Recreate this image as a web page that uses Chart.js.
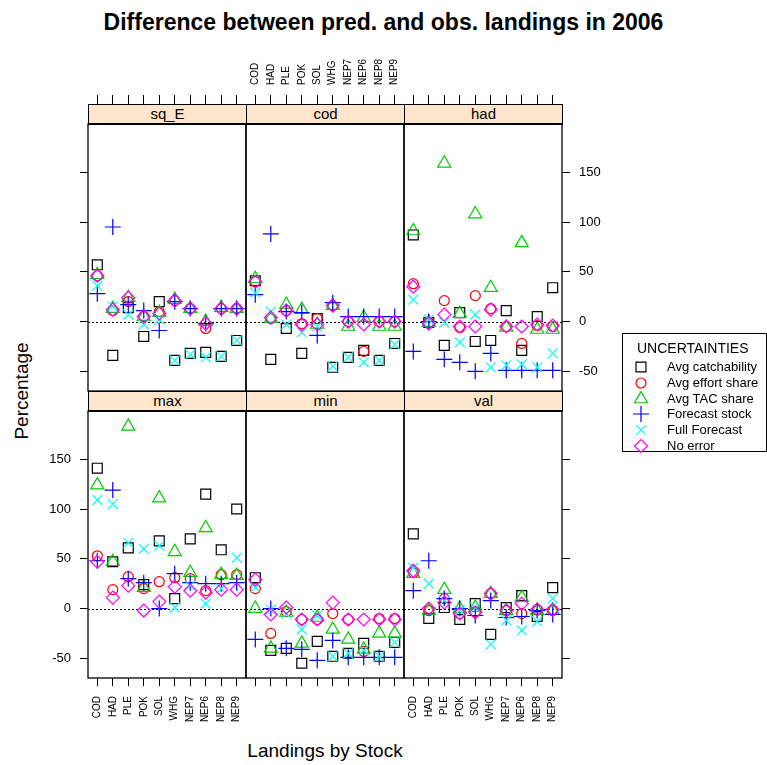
<!DOCTYPE html>
<html>
<head>
<meta charset="utf-8">
<title>Difference between pred. and obs. landings in 2006</title>
<script src="https://cdn.jsdelivr.net/npm/chart.js@4/dist/chart.umd.min.js"></script>
<style>
  html, body { margin: 0; padding: 0; background: #fff; }
  #fig { position: relative; width: 767px; height: 765px; overflow: hidden;
         font-family: "Liberation Sans", Arial, Helvetica, sans-serif; color: #000; }
  .panel { position: absolute; }
  .strip { position: absolute; box-sizing: border-box; background: #ffe5cc;
           border: 1px solid #000; border-bottom-width: 2px; text-align: center; font-size: 15px; }
  #title { position: absolute; left: 0; top: 8px; width: 767px; text-align: center;
           font-weight: bold; font-size: 23px; line-height: 28px; }
  #xlab { position: absolute; left: 88px; width: 474px; top: 740px; text-align: center; font-size: 19px; line-height: 22px; }
  #ylab { position: absolute; left: 22px; top: 391px; font-size: 19px; line-height: 22px; white-space: nowrap;
          transform: translate(-50%, -50%) rotate(-90deg); }
  #legend { position: absolute; left: 622px; top: 333px; width: 145px; height: 119px; box-sizing: border-box;
            border: 1px solid #000; }
  #legend .ttl { position: absolute; left: 14px; top: 6px; font-size: 14px; line-height: 16px; }
  #legend .row { position: absolute; left: 0; height: 16px; font-size: 13px; line-height: 16px; }
  #legend canvas { position: absolute; left: 8px; top: 0; }
  #legend .lab { position: absolute; left: 44px; top: 0; white-space: nowrap; }
</style>
</head>
<body>
<div id="fig">
  <div id="title">Difference between pred. and obs. landings in 2006</div>
  <div id="ylab">Percentage</div>
  <div id="xlab">Landings by Stock</div>
  <div id="legend"><div class="ttl">UNCERTAINTIES</div></div>
</div>
<script>
// Stocks along the x axis of every panel
const stocks = ['COD', 'HAD', 'PLE', 'POK', 'SOL', 'WHG', 'NEP7', 'NEP6', 'NEP8', 'NEP9'];
const yTickValues = [-50, 0, 50, 100, 150];
const seriesNames = ['Avg catchability', 'Avg effort share', 'Avg TAC share',
                     'Forecast stock', 'Full Forecast', 'No error'];
const panelNames = ['sq_E', 'cod', 'had', 'max', 'min', 'val'];

// Percentage difference per scenario and stock
const sqE_avgCatch  = [57, -34, 14, -15, 20, -39, -32, -31, -35, -19];
const sqE_avgEffort = [46, 11, 20, 5, 10, 21, 13, -7, 13, 13];
const sqE_avgTAC    = [47, 13, 24, 5, 9, 22, 13, 0, 14, 13];
const sqE_fcStock   = [28, 95, 17, 11, -9, 20, 13, -2, 13, 13];
const sqE_fullFc    = [36, 15, 7, -3, 2, -39, -33, -36, -35, -19];
const sqE_noError   = [46, 12, 24, 5, 8, 21, 13, -2, 13, 13];

const cod_avgCatch  = [41, -38, -7, -32, 3, -46, -36, -29, -39, -22];
const cod_avgEffort = [40, 3, 11, -2, 3, 16, 0, -30, 0, 0];
const cod_avgTAC    = [43, 3, 17, 12, -3, 16, -5, 4, -5, -5];
const cod_fcStock   = [27, 88, 10, 9, -14, 19, 5, 5, 5, 5];
const cod_fullFc    = [29, 10, -3, -11, -5, -45, -36, -41, -39, -23];
const cod_noError   = [40, 4, 11, -3, -3, 16, 0, -3, 0, 0];

const had_avgCatch  = [87, -1, -24, 9, -20, -19, 11, -29, 5, 34];
const had_avgEffort = [38, -1, 21, -6, 26, 13, -5, -22, -4, -5];
const had_avgTAC    = [91, -1, 159, 8, 108, 34, -6, 79, -8, -8];
const had_fcStock   = [-30, 0, -38, -41, -50, -32, -49, -49, -49, -49];
const had_fullFc    = [22, 2, -1, -21, 7, -46, -44, -43, -46, -32];
const had_noError   = [35, -2, 7, -5, -5, 12, -5, -5, -3, -4];

const max_avgCatch  = [141, 47, 61, 24, 68, 10, 70, 115, 59, 100];
const max_avgEffort = [53, 19, 32, 20, 27, 31, 30, 18, 34, 34];
const max_avgTAC    = [124, 47, 183, 21, 111, 57, 36, 81, 34, 33];
const max_fcStock   = [48, 119, 30, 26, 0, 35, 26, 25, 25, 26];
const max_fullFc    = [109, 105, 66, 60, 63, 1, 23, 5, 20, 51];
const max_noError   = [47, 11, 23, -2, 7, 22, 18, 16, 19, 19];

const min_avgCatch  = [31, -42, -40, -55, -33, -48, -45, -35, -48, -34];
const min_avgEffort = [20, -25, -3, -11, -11, -5, -11, -43, -10, -10];
const min_avgTAC    = [0, -40, -4, -35, -9, -21, -31, -41, -25, -25];
const min_fcStock   = [-31, 0, -40, -41, -52, -32, -49, -49, -49, -49];
const min_fullFc    = [21, -1, -5, -21, -7, -48, -45, -42, -48, -34];
const min_noError   = [29, -6, 1, -11, -11, 6, -11, -11, -11, -11];

const val_avgCatch  = [75, -10, 1, -11, 5, -26, 1, 13, -8, 21];
const val_avgEffort = [36, -2, 10, -5, -3, 15, -2, -5, -1, -2];
const val_avgTAC    = [35, -2, 19, 0, 1, 15, -2, 11, -2, -2];
const val_fcStock   = [18, 48, 10, 0, -7, 8, -9, -8, -2, -6];
const val_fullFc    = [41, 25, 8, -2, 1, -36, -12, -22, -13, 10];
const val_noError   = [38, 0, 6, -5, -4, 15, -2, 5, -1, -1];

const panelSeries = {
  sq_E: [sqE_avgCatch, sqE_avgEffort, sqE_avgTAC, sqE_fcStock, sqE_fullFc, sqE_noError],
  cod:  [cod_avgCatch, cod_avgEffort, cod_avgTAC, cod_fcStock, cod_fullFc, cod_noError],
  had:  [had_avgCatch, had_avgEffort, had_avgTAC, had_fcStock, had_fullFc, had_noError],
  max:  [max_avgCatch, max_avgEffort, max_avgTAC, max_fcStock, max_fullFc, max_noError],
  min:  [min_avgCatch, min_avgEffort, min_avgTAC, min_fcStock, min_fullFc, min_noError],
  val:  [val_avgCatch, val_avgEffort, val_avgTAC, val_fcStock, val_fullFc, val_noError]
};

// Plotting symbols, one per scenario
const symbols = [
  { pointStyle: 'rect',     radius: 7,   color: '#000000' },
  { pointStyle: 'circle',   radius: 5,   color: '#ff0000' },
  { pointStyle: 'triangle', radius: 7.5, color: '#00cc00' },
  { pointStyle: 'cross',    radius: 8,   color: '#0000ff' },
  { pointStyle: 'crossRot', radius: 7,   color: '#00ffff' },
  { pointStyle: 'rectRot',  radius: 6.5, color: '#ff00ff' }
];

// Lattice geometry
const FONT = '"Liberation Sans", Arial, Helvetica, sans-serif';
const PANEL_W = 158, PANEL_H = 267, STRIP_H = 21;
const colLeft = [88, 246, 404];
const rowTop = [124, 411];
const M_SIDE = 70, M_TOP = 80, M_BOTTOM = 70;
const X_MIN = 0.4, X_MAX = 10.6, Y_MIN = -69.8, Y_MAX = 198.5;
const X_FONT = 10;

// Which outer sides carry tick marks / labels (alternating lattice style)
const panelAxes = {
  sq_E: { left: 'ticks',  right: 'none',   top: 'ticks',  bottom: 'none' },
  cod:  { left: 'none',   right: 'none',   top: 'labels', bottom: 'none' },
  had:  { left: 'none',   right: 'labels', top: 'ticks',  bottom: 'none' },
  max:  { left: 'labels', right: 'none',   top: 'none',   bottom: 'labels' },
  min:  { left: 'none',   right: 'none',   top: 'none',   bottom: 'ticks' },
  val:  { left: 'none',   right: 'ticks',  top: 'none',   bottom: 'labels' }
};

const panelFrame = {
  id: 'panelFrame',
  beforeDatasetsDraw(chart) {
    const { ctx, chartArea: a } = chart;
    const py = Math.round(chart.scales.y.getPixelForValue(0)) + 0.5;
    ctx.save();
    ctx.strokeStyle = '#000';
    ctx.lineWidth = 1;
    ctx.setLineDash([2, 2]);
    ctx.beginPath();
    ctx.moveTo(a.left, py);
    ctx.lineTo(a.right, py);
    ctx.stroke();
    ctx.restore();
  },
  afterDraw(chart) {
    const { ctx, chartArea: a } = chart;
    ctx.save();
    ctx.strokeStyle = '#000';
    ctx.lineWidth = 1.3;
    ctx.strokeRect(a.left, a.top, a.right - a.left, a.bottom - a.top);
    ctx.restore();
  }
};

function axis(pos, mode, isX) {
  const show = mode !== 'none';
  const rot = isX ? 90 : 0;
  return {
    type: 'linear',
    position: pos,
    min: isX ? X_MIN : Y_MIN,
    max: isX ? X_MAX : Y_MAX,
    afterBuildTicks(scale) {
      const vals = isX ? stocks.map((s, i) => i + 1) : yTickValues;
      scale.ticks = vals.map(v => ({ value: v }));
    },
    afterFit(scale) {
      if (isX) scale.height = (pos === 'top') ? M_TOP : M_BOTTOM;
      else scale.width = M_SIDE;
    },
    border: { display: false },
    grid: {
      display: show,
      drawOnChartArea: false,
      drawTicks: true,
      tickLength: pos === 'top' ? STRIP_H + 8 : 8,
      color: '#000',
      lineWidth: 1
    },
    ticks: {
      display: mode === 'labels',
      autoSkip: false,
      maxRotation: rot,
      minRotation: rot,
      // rotated labels on a top axis sit one line height left of their tick
      labelOffset: pos === 'top' ? X_FONT * 1.2 : 0,
      padding: isX ? 10 : 9,
      color: '#000',
      font: { family: FONT, size: isX ? X_FONT : 13 },
      callback: (v, i) => isX ? stocks[i] : String(v)
    }
  };
}

const fig = document.getElementById('fig');

panelNames.forEach((name, p) => {
  const col = p % 3, row = Math.floor(p / 3);
  const left = colLeft[col], top = rowTop[row];

  const canvas = document.createElement('canvas');
  canvas.className = 'panel';
  const w = PANEL_W + 2 * M_SIDE, h = PANEL_H + M_TOP + M_BOTTOM;
  canvas.width = w; canvas.height = h;
  canvas.style.width = w + 'px'; canvas.style.height = h + 'px';
  canvas.style.left = (left - M_SIDE) + 'px';
  canvas.style.top = (top - M_TOP) + 'px';
  fig.insertBefore(canvas, document.getElementById('legend'));

  const ax = panelAxes[name];
  const datasets = panelSeries[name].map((vals, s) => ({
    label: seriesNames[s],
    data: vals.map((v, i) => ({ x: i + 1, y: v })),
    showLine: false,
    order: 6 - s,
    pointStyle: symbols[s].pointStyle,
    pointRadius: symbols[s].radius,
    pointBorderColor: symbols[s].color,
    pointBackgroundColor: 'rgba(0,0,0,0)',
    pointBorderWidth: 1.2,
    clip: false
  }));

  new Chart(canvas, {
    type: 'scatter',
    data: { datasets },
    options: {
      responsive: false,
      animation: false,
      devicePixelRatio: 1,
      layout: { padding: 0 },
      events: [],
      plugins: { legend: { display: false }, tooltip: { enabled: false } },
      scales: {
        x:  axis('bottom', ax.bottom, true),
        x2: axis('top', ax.top, true),
        y:  axis('left', ax.left, false),
        y2: axis('right', ax.right, false)
      }
    },
    plugins: [panelFrame]
  });

  const strip = document.createElement('div');
  strip.className = 'strip';
  strip.textContent = name;
  strip.style.left = left + 'px';
  strip.style.top = (top - STRIP_H + 1) + 'px';
  strip.style.width = (PANEL_W + 1) + 'px';
  strip.style.height = STRIP_H + 'px';
  strip.style.lineHeight = (STRIP_H - 3) + 'px';
  fig.insertBefore(strip, document.getElementById('legend'));
});

// Key: scenario symbols and names
const legend = document.getElementById('legend');
seriesNames.forEach((label, s) => {
  const row = document.createElement('div');
  row.className = 'row';
  row.style.top = (25 + s * 15.8) + 'px';
  const c = document.createElement('canvas');
  c.width = 20; c.height = 16;
  c.style.width = '20px'; c.style.height = '16px';
  const ctx = c.getContext('2d');
  ctx.strokeStyle = symbols[s].color;
  ctx.fillStyle = 'rgba(0,0,0,0)';
  ctx.lineWidth = 1.2;
  const opts = { pointStyle: symbols[s].pointStyle, radius: symbols[s].radius, rotation: 0, borderWidth: 1.2 };
  if (Chart.helpers && Chart.helpers.drawPoint) {
    Chart.helpers.drawPoint(ctx, opts, 10, 8);
  }
  const txt = document.createElement('span');
  txt.className = 'lab';
  txt.textContent = label;
  row.appendChild(c);
  row.appendChild(txt);
  legend.appendChild(row);
});
</script>
</body>
</html>
